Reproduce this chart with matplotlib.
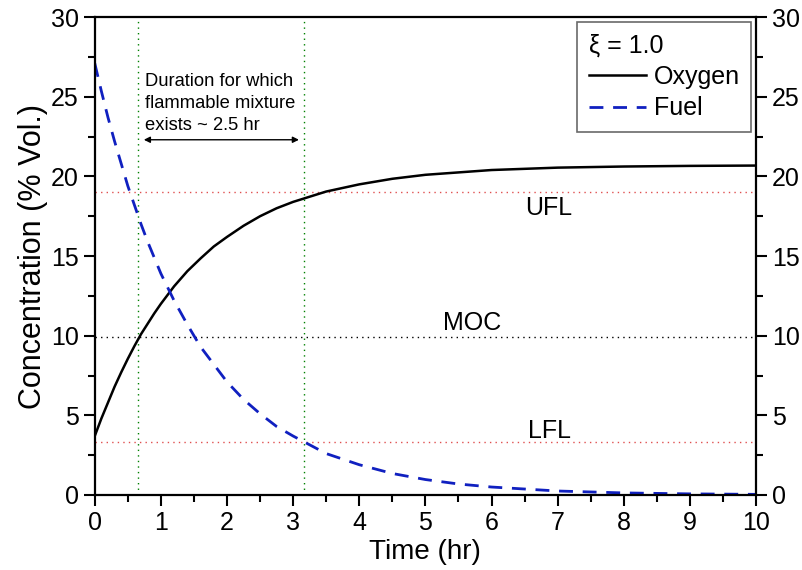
import numpy as np
import matplotlib
matplotlib.use('Agg')
import matplotlib.pyplot as plt
from matplotlib.ticker import MultipleLocator

plt.rcParams['font.family'] = ['Liberation Sans', 'DejaVu Sans']

# values
time_hr = [0, 0.1, 0.2, 0.3, 0.4, 0.5, 0.6, 0.7, 0.8, 0.9, 1.0, 1.2, 1.4,
           1.6, 1.8, 2.0, 2.25, 2.5, 2.75, 3.0, 3.5, 4.0, 4.5, 5.0, 5.5,
           6.0, 7.0, 8.0, 9.0, 10.0]
oxygen = [3.7, 4.8, 5.8, 6.8, 7.7, 8.55, 9.35, 10.1, 10.75, 11.4, 12.0, 13.1,
          14.05, 14.85, 15.6, 16.2, 16.9, 17.5, 18.0, 18.4, 19.05, 19.5,
          19.85, 20.1, 20.25, 20.4, 20.55, 20.62, 20.66, 20.68]
fuel = [27.1, 25.35, 23.7, 22.2, 20.8, 19.4, 18.2, 17.0, 15.9, 14.9, 13.9,
        12.2, 10.7, 9.3, 8.2, 7.1, 6.0, 5.1, 4.3, 3.7, 2.6, 1.9, 1.35, 0.97,
        0.69, 0.5, 0.25, 0.13, 0.07, 0.04]

ufl, moc, lfl = 19.0, 9.9, 3.3
t_start, t_end = 0.66, 3.16

fig = plt.figure(figsize=(8.03, 5.70), dpi=100)
ax = fig.add_axes([0.118, 0.1316, 0.8235, 0.8384])

ax.axhline(ufl, color='#e05050', ls=(0, (1, 3)), lw=1)
ax.axhline(lfl, color='#e05050', ls=(0, (1, 3)), lw=1)
ax.axhline(moc, color='black', ls=(0, (1, 3)), lw=1)
ax.axvline(t_start, color='green', ls=(0, (1, 3)), lw=1)
ax.axvline(t_end, color='green', ls=(0, (1, 3)), lw=1)

ax.plot(time_hr, oxygen, color='black', lw=1.8, label='Oxygen')
ax.plot(time_hr, fuel, color='#1020c0', lw=2, ls=(0, (5, 3.5)), label='Fuel')

ax.text(6.87, 18.0, 'UFL', fontsize=18, ha='center', va='center')
ax.text(5.70, 10.8, 'MOC', fontsize=18, ha='center', va='center')
ax.text(6.88, 4.0, 'LFL', fontsize=18, ha='center', va='center')

ax.text(0.76, 26.5, 'Duration for which\nflammable mixture\nexists ~ 2.5 hr',
        fontsize=13.2, ha='left', va='top', linespacing=1.4)
ax.annotate('', xy=(0.70, 22.3), xytext=(3.13, 22.3),
            arrowprops=dict(arrowstyle='<|-|>', color='black', lw=1,
                            mutation_scale=9))

ax.set_xlim(0, 10)
ax.set_ylim(0, 30)
ax.xaxis.set_major_locator(MultipleLocator(1))
ax.xaxis.set_minor_locator(MultipleLocator(0.5))
ax.yaxis.set_major_locator(MultipleLocator(5))
ax.yaxis.set_minor_locator(MultipleLocator(2.5))
ax.tick_params(which='both', direction='out', right=True, labelright=True,
               top=False, width=1.5, labelsize=18)
ax.tick_params(which='major', length=8)
ax.tick_params(which='minor', length=5)
for s in ax.spines.values():
    s.set_linewidth(1.6)

ax.set_xlabel('Time (hr)', fontsize=20, labelpad=3)
ax.set_ylabel('Concentration (% Vol.)', fontsize=22, labelpad=2)

leg = ax.legend(title='ξ = 1.0', loc='upper right', fontsize=18,
                title_fontsize=18, frameon=True, fancybox=False,
                edgecolor='#444444', handlelength=2.3, borderpad=0.45,
                labelspacing=0.3, handletextpad=0.3, borderaxespad=0.2)
leg._legend_box.align = 'left'
leg.get_frame().set_linewidth(1.2)

fig.savefig('out.png', dpi=100)
